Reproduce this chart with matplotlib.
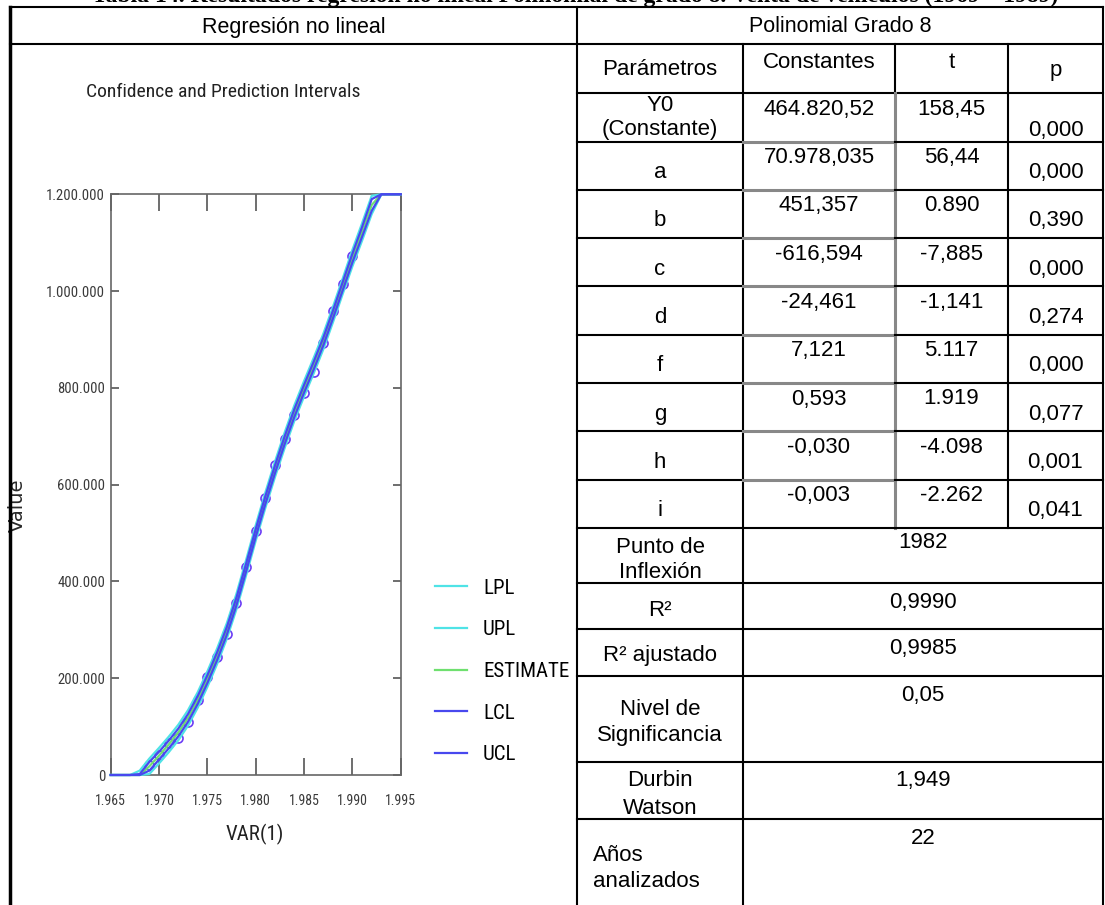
import numpy as np
import matplotlib
matplotlib.use("Agg")
import matplotlib.pyplot as plt
from matplotlib.lines import Line2D

# ------------------------------------------------------------------ data
obs_years = [1969, 1970, 1971, 1972, 1973, 1974, 1975, 1976, 1977, 1978, 1979,
             1980, 1981, 1982, 1983, 1984, 1985, 1986, 1987, 1988, 1989, 1990]
obs_values = [20700, 42000, 66000, 76000, 110000, 155000, 202000, 243000, 292000,
              356000, 429000, 505000, 573000, 641000, 694000, 743000, 789000,
              833000, 892000, 959000, 1015000, 1072000]

fit_years = [1965, 1966, 1967, 1968, 1969, 1970, 1971, 1972, 1973, 1974, 1975,
             1976, 1977, 1978, 1979, 1980, 1981, 1982, 1983, 1984, 1985, 1986,
             1987, 1988, 1989, 1990, 1991, 1992, 1993, 1994, 1995]
estimate = [-95000, -65000, -35000, -8000, 18000, 40000, 63000, 88000, 118000,
            155000, 198000, 245000, 297000, 358000, 428000, 500000, 568000,
            632000, 692000, 748000, 798000, 846000, 896000, 952000, 1010000,
            1068000, 1122000, 1178000, 1240000, 1305000, 1365000]
conf_half = [16000, 14000, 12000, 10000, 9000, 8000, 8000, 8000, 8000, 8000,
             8000, 8000, 8000, 8000, 8000, 8000, 8000, 8000, 8000, 8000, 8000,
             8000, 8000, 8000, 8500, 9000, 10000, 12000, 14000, 16000, 18000]
pred_half = [22000, 20000, 18000, 17000, 16000, 16000, 16000, 16000, 16000, 16000,
             16000, 16000, 16000, 16000, 16000, 16000, 16000, 16000, 16000, 16000,
             16000, 16000, 16000, 16000, 16000, 17000, 18000, 19000, 21000, 23000,
             25000]

x_ticks = [1965, 1970, 1975, 1980, 1985, 1990, 1995]
x_ticklabels = ["1.965", "1.970", "1.975", "1.980", "1.985", "1.990", "1.995"]
y_ticks = [0, 200000, 400000, 600000, 800000, 1000000, 1200000]
y_ticklabels = ["0", "200.000", "400.000", "600.000", "800.000", "1.000.000", "1.200.000"]
legend_labels = ["LPL", "UPL", "ESTIMATE", "LCL", "UCL"]
chart_title = "Confidence and Prediction Intervals"
x_label = "VAR(1)"
y_label = "Value"

caption = "Tabla 14. Resultados regresión no lineal Polinomial de grado 8. Venta de vehículos (1969 – 1989)"
header_left = "Regresión no lineal"
header_right = "Polinomial Grado 8"
col_headers = ["Parámetros", "Constantes", "t", "p"]
param_names = [["Y0", "(Constante)"], ["a"], ["b"], ["c"], ["d"], ["f"], ["g"], ["h"], ["i"]]
constants = ["464.820,52", "70.978,035", "451,357", "-616,594", "-24,461",
             "7,121", "0,593", "-0,030", "-0,003"]
t_values = ["158,45", "56,44", "0.890", "-7,885", "-1,141", "5.117", "1.919",
            "-4.098", "-2.262"]
p_values = ["0,000", "0,000", "0,390", "0,000", "0,274", "0,000", "0,077",
            "0,001", "0,041"]
stat_names = [["Punto de", "Inflexión"], ["R²"], ["R² ajustado"],
              ["Nivel de", "Significancia"], ["Durbin", "Watson"], ["Años", "analizados"]]
stat_values = ["1982", "0,9990", "0,9985", "0,05", "1,949", "22"]

# ------------------------------------------------------------------ figure
W, H = 1105, 905
fig = plt.figure(figsize=(W / 100, H / 100), dpi=100)
fig.patch.set_facecolor("white")

NARROW = ["Roboto Condensed", "Liberation Sans Narrow", "Liberation Sans", "DejaVu Sans"]
SANS = ["Liberation Sans", "DejaVu Sans"]


def fx(px):
    return px / W


def fy(py):
    return 1 - py / H


# ------------------------------------------------------------------ chart
ax = fig.add_axes([fx(110.7), fy(775), (400.7 - 110.7) / W, (775 - 194.3) / H])
ymin, ymax = 0, 1200000
est = np.array(estimate, dtype=float)
ch = np.array(conf_half, dtype=float)
ph = np.array(pred_half, dtype=float)
series = [est - ph, est + ph, est, est - ch, est + ch]
colors = ["#4fe3e6", "#4fe3e6", "#6fe06f", "#4848ee", "#4848ee"]

ax.plot(obs_years, obs_values, linestyle="none", marker="o", markersize=6.5,
        markerfacecolor="none", markeredgecolor="#6b3cf5", markeredgewidth=1.2, zorder=2)
handles = []
for vals, col, lab in zip(series, colors, legend_labels):
    ln, = ax.plot(fit_years, np.clip(vals, ymin, ymax), color=col, lw=1.6,
                  label=lab, clip_on=False, zorder=3)
    handles.append(ln)

ax.set_xlim(1965, 1995)
ax.set_ylim(ymin, ymax)
ax.set_xticks(x_ticks)
ax.set_xticklabels(x_ticklabels, family=NARROW, fontsize=10, color="#3a3a3a")
ax.set_yticks(y_ticks)
ax.set_yticklabels(y_ticklabels, family=NARROW, fontsize=10.5, color="#3a3a3a")
ax.tick_params(axis="x", direction="in", top=True, bottom=True, length=12, width=1.2,
               color="#555555", pad=13.5)
ax.tick_params(axis="y", direction="in", left=True, right=True, length=5.5, width=1.2,
               color="#555555", pad=4)
for sp in ax.spines.values():
    sp.set_color("#666666")
    sp.set_linewidth(1.2)

ax.set_xlabel(x_label, family=NARROW, fontsize=15, color="#222222")
ax.xaxis.set_label_coords((255 - 110.7) / 290.0, -(834 - 775) / 580.7)
ax.xaxis.label.set_va("center")
ax.set_ylabel(y_label, family=["DejaVu Sans"], fontsize=14, color="#2a2a2a")
ax.yaxis.set_label_coords((17 - 110.7) / 290.0, (775 - 505) / 580.7)
ax.yaxis.label.set_va("center")

fig.text(fx(223), fy(92), chart_title, family=NARROW, fontsize=14, color="#222222",
         ha="center", va="center")

fig.legend(handles, legend_labels, loc="upper left",
           bbox_to_anchor=(fx(435), fy(578.5)), frameon=False, borderpad=0,
           borderaxespad=0, handlelength=1.54, handletextpad=0.77,
           labelspacing=1.09, prop={"family": NARROW, "size": 15})

# ------------------------------------------------------------------ table
X_L, X_DIV, X_C1, X_C2, X_C3, X_R = 10, 577, 743, 895, 1008, 1103
Y_TOP, Y_HDR, Y_COLH = 7, 44, 93.3
ROW_H = 48.3
param_tops = [Y_COLH + ROW_H * i for i in range(len(param_names) + 1)]
Y_PEND = param_tops[-1]
stat_bounds = [Y_PEND, 583.3, 629.3, 676, 761.7, 819.3, H]
BODY = 16


def hline(y, x0, x1, color="black", lw=1.5):
    fig.add_artist(Line2D([fx(x0), fx(x1)], [fy(y), fy(y)], color=color, lw=lw,
                          solid_capstyle="projecting"))


def vline(x, y0, y1, color="black", lw=1.5):
    fig.add_artist(Line2D([fx(x), fx(x)], [fy(y0), fy(y1)], color=color, lw=lw,
                          solid_capstyle="projecting"))


def txt(x, y, s, ha="center", size=BODY, **kw):
    # y is the visual centre of the capitals; place the baseline below it
    base = y + 0.36 * size * 100 / 72
    fig.text(fx(x), fy(base), s, ha=ha, va="baseline", fontsize=size, family=SANS,
             color="black", **kw)


# caption (cut off by the top edge)
fig.text(fx(575), fy(2), caption, ha="center", va="baseline", fontsize=17,
         family=["Liberation Serif", "DejaVu Serif"], fontweight="bold", color="black")

# outer frame and header
hline(Y_TOP, X_L, X_R)
hline(Y_HDR, X_L, X_R)
vline(X_L, Y_TOP, H + 5, lw=2.5)
vline(X_DIV, Y_TOP, H + 5)
vline(X_R, Y_TOP, H + 5)
txt((X_L + X_DIV) / 2, 25, header_left, size=15.5)
txt((X_DIV + X_R) / 2, 24, header_right, size=15.5)

# column header row
hline(Y_COLH, X_DIV, X_R)
vline(X_C1, Y_HDR, H + 5)
vline(X_C2, Y_HDR, Y_COLH)
vline(X_C2, Y_COLH, Y_PEND, color="#888888", lw=2.2)
vline(X_C3, Y_HDR, Y_PEND)
cx_par = (X_DIV + X_C1) / 2
cx_con = (X_C1 + X_C2) / 2
cx_t = (X_C2 + X_C3) / 2
cx_p = (X_C3 + X_R) / 2
txt(cx_par, 66.7, col_headers[0])
txt(cx_con, 60, col_headers[1])
txt(cx_t, 60, col_headers[2])
txt(cx_p, 68.3, col_headers[3])

# parameter rows
for i, (name, c, t, p) in enumerate(zip(param_names, constants, t_values, p_values)):
    top = param_tops[i]
    bot = param_tops[i + 1]
    if i < len(param_names) - 1:
        hline(bot, X_DIV, X_C1)
        hline(bot, X_C1, X_C2, color="#888888", lw=2.2)
        hline(bot, X_C2, X_R)
    else:
        hline(bot, X_DIV, X_R)
    if len(name) == 2:
        txt(cx_par, top + 10, name[0])
        txt(cx_par, top + 34, name[1])
        txt(cx_p, top + 35, p)
    else:
        txt(cx_par, top + 28.5, name[0])
        txt(cx_p, top + 28.5, p)
    txt(cx_con, top + 13.4, c)
    txt(cx_t, top + 13.4, t)

# statistic rows
cx_val = (X_C1 + X_R) / 2
stat_label_y = [[545, 570], [608.3], [653.3], [706.7, 733.3], [778.3, 806], [853.3, 879.3]]
stat_value_y = [540, 600, 646, 692.7, 777.7, 836]
for i, (names_, val) in enumerate(zip(stat_names, stat_values)):
    bot = stat_bounds[i + 1]
    if bot < H:
        hline(bot, X_DIV, X_R)
    for s, yy in zip(names_, stat_label_y[i]):
        if i == len(stat_names) - 1:
            txt(593, yy, s, ha="left")
        else:
            txt(cx_par, yy, s)
    txt(cx_val, stat_value_y[i], val)

fig.savefig("out.png", dpi=100, facecolor="white")
